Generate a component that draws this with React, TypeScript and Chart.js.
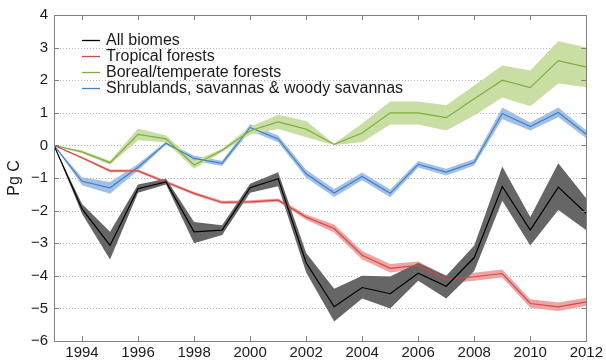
import React, { useEffect, useRef } from "react";
import { Chart, registerables } from "chart.js";

Chart.register(...registerables);

const years = [1993, 1994, 1995, 1996, 1997, 1998, 1999, 2000, 2001, 2002, 2003, 2004, 2005, 2006, 2007, 2008, 2009, 2010, 2011, 2012];
const xTickYears = [1994, 1996, 1998, 2000, 2002, 2004, 2006, 2008, 2010, 2012];

const allMean = [0, -1.95, -3.07, -1.33, -1.12, -2.65, -2.6, -1.3, -1.02, -3.6, -4.95, -4.36, -4.55, -3.92, -4.32, -3.44, -1.26, -2.6, -1.28, -2.09];
const allLow = [0, -2.1, -3.5, -1.45, -1.2, -3.0, -2.75, -1.45, -1.25, -3.9, -5.4, -4.7, -5.0, -4.15, -4.7, -3.85, -1.7, -3.07, -1.98, -2.6];
const allHigh = [0, -1.8, -2.65, -1.2, -1.02, -2.35, -2.45, -1.18, -0.82, -3.3, -4.4, -4.0, -4.02, -3.6, -4.0, -3.07, -0.65, -2.2, -0.55, -1.63];

const tropMean = [0, -0.38, -0.78, -0.78, -1.13, -1.47, -1.75, -1.73, -1.68, -2.2, -2.55, -3.37, -3.77, -3.68, -4.12, -4.03, -3.93, -4.85, -4.95, -4.8];
const tropLow = [0, -0.41, -0.82, -0.82, -1.18, -1.52, -1.8, -1.78, -1.73, -2.28, -2.67, -3.5, -3.9, -3.8, -4.24, -4.15, -4.05, -4.98, -5.08, -4.93];
const tropHigh = [0, -0.35, -0.74, -0.74, -1.08, -1.42, -1.7, -1.68, -1.63, -2.12, -2.43, -3.24, -3.64, -3.56, -4.0, -3.91, -3.81, -4.72, -4.82, -4.67];

const borMean = [0, -0.2, -0.53, 0.34, 0.2, -0.6, -0.15, 0.45, 0.72, 0.5, 0.03, 0.38, 1.0, 1.0, 0.85, 1.43, 2.0, 1.77, 2.6, 2.4];
const borLow = [0, -0.24, -0.59, 0.16, 0.1, -0.72, -0.2, 0.33, 0.5, 0.25, 0.01, 0.1, 0.64, 0.64, 0.46, 0.92, 1.47, 1.2, 1.9, 1.78];
const borHigh = [0, -0.16, -0.47, 0.52, 0.3, -0.48, -0.1, 0.57, 0.94, 0.75, 0.05, 0.67, 1.35, 1.35, 1.23, 1.84, 2.45, 2.3, 3.2, 3.0];

const shrMean = [0, -1.1, -1.3, -0.67, 0.07, -0.4, -0.55, 0.55, 0.2, -0.87, -1.46, -0.95, -1.47, -0.58, -0.82, -0.52, 0.98, 0.58, 1.01, 0.34];
const shrLow = [0, -1.22, -1.48, -0.77, 0.02, -0.48, -0.63, 0.45, 0.1, -0.99, -1.58, -1.07, -1.59, -0.68, -0.92, -0.62, 0.8, 0.46, 0.86, 0.22];
const shrHigh = [0, -0.98, -1.12, -0.57, 0.12, -0.32, -0.47, 0.65, 0.3, -0.75, -1.34, -0.83, -1.35, -0.48, -0.72, -0.42, 1.16, 0.7, 1.16, 0.46];

const seriesNames = ["All biomes", "Tropical forests", "Boreal/temperate forests", "Shrublands, savannas & woody savannas"];
const lineColors = ["#000000", "#d8473f", "#7daf3e", "#3f7fcc"];
const bandColors = ["rgb(102,102,102)", "rgb(236,165,165)", "rgb(200,222,163)", "rgb(162,192,230)"];

const FONT = "'Liberation Sans', Arial, Helvetica, sans-serif";

function pts(vals: number[]) {
  return vals.map((v, i) => ({ x: years[i], y: v }));
}

export default function App() {
  const ref = useRef<HTMLCanvasElement | null>(null);
  useEffect(() => {
    document.body.style.margin = "0";
    const canvas = ref.current!;
    const groups = [
      [allLow, allHigh, allMean],
      [tropLow, tropHigh, tropMean],
      [borLow, borHigh, borMean],
      [shrLow, shrHigh, shrMean],
    ];
    const datasets: any[] = [];
    groups.forEach((g, k) => {
      datasets.push({ data: pts(g[0]), borderWidth: 0, pointRadius: 0, fill: false, borderColor: "transparent" });
      datasets.push({ data: pts(g[1]), borderWidth: 0, pointRadius: 0, fill: "-1", backgroundColor: bandColors[k], borderColor: "transparent" });
      datasets.push({ label: seriesNames[k], data: pts(g[2]), borderWidth: 1.2, pointRadius: 0, fill: false, borderColor: lineColors[k] });
    });

    const deco = {
      id: "deco",
      beforeDraw(chart: any) {
        const { ctx, chartArea: a, scales } = chart;
        ctx.save();
        ctx.strokeStyle = "#b5b5b5";
        ctx.lineWidth = 1;
        ctx.setLineDash([1, 2]);
        scales.y.ticks.forEach((t: any) => {
          const y = Math.round(scales.y.getPixelForValue(t.value)) + 0.5;
          ctx.beginPath();
          ctx.moveTo(a.left, y);
          ctx.lineTo(a.right, y);
          ctx.stroke();
        });
        ctx.restore();
      },
      afterDatasetsDraw(chart: any) {
        const { ctx, chartArea: a, scales } = chart;
        ctx.save();
        ctx.strokeStyle = "#808080";
        ctx.lineWidth = 1;
        ctx.setLineDash([]);
        ctx.strokeRect(Math.round(a.left) + 0.5, Math.round(a.top) + 0.5, Math.round(a.right - a.left), Math.round(a.bottom - a.top));
        const L = 5;
        ctx.beginPath();
        xTickYears.forEach((v) => {
          const x = Math.round(scales.x.getPixelForValue(v)) + 0.5;
          ctx.moveTo(x, a.top);
          ctx.lineTo(x, a.top + L);
          ctx.moveTo(x, a.bottom);
          ctx.lineTo(x, a.bottom - L);
        });
        scales.y.ticks.forEach((t: any) => {
          const y = Math.round(scales.y.getPixelForValue(t.value)) + 0.5;
          ctx.moveTo(a.left, y);
          ctx.lineTo(a.left + L, y);
          ctx.moveTo(a.right, y);
          ctx.lineTo(a.right - L, y);
        });
        ctx.stroke();
        ctx.restore();
      },
      afterDraw(chart: any) {
        const { ctx } = chart;
        ctx.save();
        ctx.font = `16px ${FONT}`;
        ctx.textBaseline = "middle";
        ctx.textAlign = "left";
        const rows = [40, 56, 72, 88];
        seriesNames.forEach((n, k) => {
          ctx.strokeStyle = lineColors[k];
          ctx.lineWidth = 1.3;
          ctx.beginPath();
          ctx.moveTo(82, rows[k] + 0.5);
          ctx.lineTo(100, rows[k] + 0.5);
          ctx.stroke();
          ctx.fillStyle = "#1a1a1a";
          ctx.fillText(n, 106, rows[k] + 1);
        });
        ctx.restore();
      },
    };

    const chart = new Chart(canvas, {
      type: "line",
      data: { datasets },
      options: {
        animation: false,
        responsive: false,
        layout: { padding: { top: 15, right: 18, left: 0, bottom: 0 } },
        plugins: {
          legend: { display: false },
          tooltip: { enabled: false },
          filler: { drawTime: "beforeDatasetsDraw" },
        } as any,
        scales: {
          x: {
            type: "linear",
            min: 1993,
            max: 2012,
            grid: { display: false, drawTicks: false },
            border: { display: false },
            afterBuildTicks: (s: any) => {
              s.ticks = xTickYears.map((v) => ({ value: v }));
            },
            afterFit: (s: any) => {
              s.height = 20;
            },
            ticks: {
              autoSkip: false,
              maxRotation: 0,
              padding: 3,
              color: "#1a1a1a",
              font: { family: FONT, size: 15 },
              callback: (v: any) => String(v),
            },
          },
          y: {
            min: -6,
            max: 4,
            grid: { display: false, drawTicks: false },
            border: { display: false },
            afterFit: (s: any) => {
              s.width = 54;
            },
            title: {
              display: true,
              text: "Pg C",
              color: "#1a1a1a",
              font: { family: FONT, size: 16 },
              padding: { top: 5, bottom: 0 },
            },
            ticks: {
              stepSize: 1,
              padding: 6,
              color: "#1a1a1a",
              font: { family: FONT, size: 15 },
              callback: (v: any) => (Number(v) < 0 ? "\u2212" + Math.abs(Number(v)) : String(v)),
            },
          },
        },
      } as any,
      plugins: [deco],
    });
    return () => chart.destroy();
  }, []);
  return (
    <div style={{ width: 606, height: 361 }}>
      <canvas ref={ref} width={606} height={361} style={{ display: "block", width: 606, height: 361 }} />
    </div>
  );
}
